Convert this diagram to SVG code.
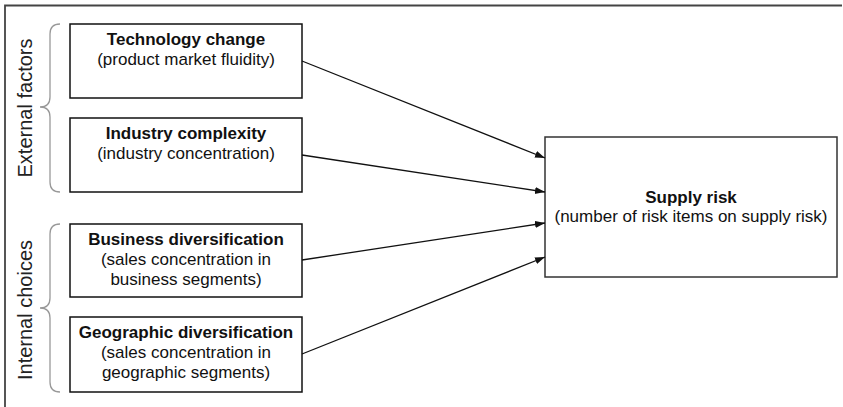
<svg xmlns="http://www.w3.org/2000/svg" width="843" height="407" viewBox="0 0 843 407">
<style>
.box{fill:#fff;stroke:#111;stroke-width:1.5}
.t{font-family:"Liberation Sans",Arial,sans-serif;font-size:17px;fill:#111;text-anchor:middle}
.b{font-weight:bold}
.lab{font-family:"Liberation Sans",Arial,sans-serif;font-size:20px;fill:#222;text-anchor:middle}
.brace{fill:none;stroke:#999;stroke-width:1.3}
.conn{stroke:#111;stroke-width:1.3;fill:none;marker-end:url(#ah)}
</style>
<defs>
<marker id="ah" markerUnits="userSpaceOnUse" markerWidth="11" markerHeight="8" refX="10" refY="3.5" orient="auto">
<path d="M0,0 L10,3.5 L0,7 z" fill="#111"/>
</marker>
</defs>
<rect width="843" height="407" fill="#fff"/>
<path d="M5,407 V5.5 H842" fill="none" stroke="#444" stroke-width="1.8"/>

<g id="group-external">
<path class="brace" d="M60,24 Q50,24 50,34 L50,97 Q50,107 40,107 Q50,107 50,117 L50,182 Q50,192 60,192"/>
<text class="lab" transform="translate(32,108) rotate(-90)">External factors</text>
</g>
<g id="group-internal">
<path class="brace" d="M60,224 Q50,224 50,234 L50,298 Q50,308 40,308 Q50,308 50,318 L50,382 Q50,392 60,392"/>
<text class="lab" transform="translate(32,310) rotate(-90)">Internal choices</text>
</g>

<g id="node-tech">
<rect class="box" x="70" y="24" width="232" height="74"/>
<text class="t b" x="186" y="44.5">Technology change</text>
<text class="t" x="186" y="64.5">(product market fluidity)</text>
</g>
<g id="node-industry">
<rect class="box" x="70" y="118" width="232" height="74"/>
<text class="t b" x="186" y="138.5">Industry complexity</text>
<text class="t" x="186" y="158.5">(industry concentration)</text>
</g>
<g id="node-business">
<rect class="box" x="70" y="224" width="232" height="73"/>
<text class="t b" x="186" y="244.5">Business diversification</text>
<text class="t" x="186" y="264.5">(sales concentration in</text>
<text class="t" x="186" y="284.5">business segments)</text>
</g>
<g id="node-geo">
<rect class="box" x="70" y="317" width="232" height="75"/>
<text class="t b" x="186" y="337.5">Geographic diversification</text>
<text class="t" x="186" y="357.5">(sales concentration in</text>
<text class="t" x="186" y="377.5">geographic segments)</text>
</g>
<g id="node-supply">
<rect class="box" x="545" y="137" width="292" height="140" style="stroke:#333"/>
<text class="t b" x="691" y="202.5">Supply risk</text>
<text class="t" x="691" y="221.5">(number of risk items on supply risk)</text>
</g>

<g id="connectors">
<line class="conn" x1="302" y1="61" x2="545" y2="158"/>
<line class="conn" x1="302" y1="155" x2="545" y2="192"/>
<line class="conn" x1="302" y1="260" x2="545" y2="223"/>
<line class="conn" x1="302" y1="354" x2="545" y2="257"/>
</g>
</svg>
